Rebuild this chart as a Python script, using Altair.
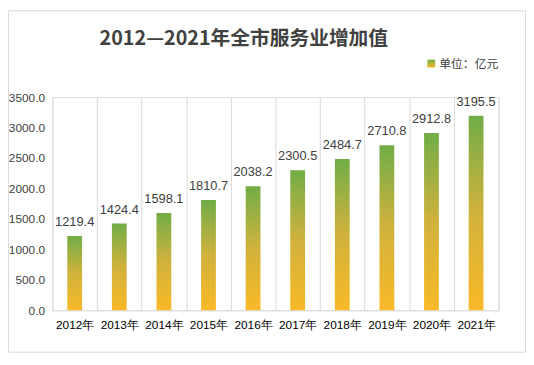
import altair as alt
import pandas as pd

years = ["2012年", "2013年", "2014年", "2015年", "2016年", "2017年", "2018年", "2019年", "2020年", "2021年"]
values = [1219.4, 1424.4, 1598.1, 1810.7, 2038.2, 2300.5, 2484.7, 2710.8, 2912.8, 3195.5]
y_ticks = [0, 500, 1000, 1500, 2000, 2500, 3000, 3500]
title_text = "2012—2021年全市服务业增加值"
legend_text = "单位：亿元"

df = pd.DataFrame({"year": years, "value": values})

grad = alt.Gradient(
    gradient="linear", x1=0, y1=1, x2=0, y2=0,
    stops=[alt.GradientStop(offset=0, color="#F8B927"),
           alt.GradientStop(offset=0.5, color="#D0B23C"),
           alt.GradientStop(offset=1, color="#71AD47")],
)

x = alt.X("year:N", sort=years, title=None,
          scale=alt.Scale(paddingInner=0, paddingOuter=0),
          axis=alt.Axis(labelAngle=0, labelFontSize=12, labelColor="#000000",
                        labelFont="Liberation Sans", labelPadding=9, ticks=False,
                        domain=True, domainColor="#D9D9D9", domainWidth=1,
                        grid=True, gridColor="#D9D9D9", tickBand="extent"))
y = alt.Y("value:Q", title=None,
          scale=alt.Scale(domain=[0, 3500], nice=False),
          axis=alt.Axis(values=y_ticks, format=".1f", labelFontSize=12,
                        labelColor="#404040", labelFont="Liberation Sans",
                        labelOverlap=False, labelFlush=False,
                        labelPadding=8, ticks=False, domain=False, grid=False))

base = alt.Chart(df)

bars = base.mark_bar(size=15, color=grad).encode(x=x, y=y)

labels = base.mark_text(dy=-10, baseline="alphabetic", fontSize=13,
                        font="Liberation Sans", color="#404040").encode(
    x=x, y=y, text=alt.Text("value:Q", format=".1f"))

border = alt.Chart(pd.DataFrame({"k": [0]})).mark_rect(
    fill=None, stroke="#D9D9D9", strokeWidth=1).encode(
    x=alt.value(-44.5), x2=alt.value(479.5), y=alt.value(-87.5), y2=alt.value(258.5))

title_mark = alt.Chart(pd.DataFrame({"t": [title_text]})).mark_text(
    align="center", baseline="alphabetic", fontSize=20, fontWeight="bold",
    font="Noto Sans CJK SC", color="#404040").encode(
    x=alt.value(194), y=alt.value(-53), text="t:N")

legend_box = alt.Chart(pd.DataFrame({"k": [0]})).mark_rect(
    fill=alt.Gradient(gradient="linear", x1=0, y1=1, x2=0, y2=0,
                      stops=[alt.GradientStop(offset=0, color="#F8B927"),
                             alt.GradientStop(offset=1, color="#71AD47")])).encode(
    x=alt.value(380), x2=alt.value(388), y=alt.value(-38), y2=alt.value(-30))

legend_label = alt.Chart(pd.DataFrame({"t": [legend_text]})).mark_text(
    align="left", baseline="middle", fontSize=12, font="Noto Sans CJK SC",
    color="#404040").encode(x=alt.value(392), y=alt.value(-34), text="t:N")

chart = alt.layer(border, bars, labels, title_mark, legend_box, legend_label).properties(
    width=452, height=216,
    autosize=alt.AutoSizeParams(type="none"),
    padding={"left": 45, "top": 88, "right": 28, "bottom": 43},
).configure_view(stroke=None).configure(background="white")

chart.save("out.html", embed_options={"renderer": "svg", "actions": False})
